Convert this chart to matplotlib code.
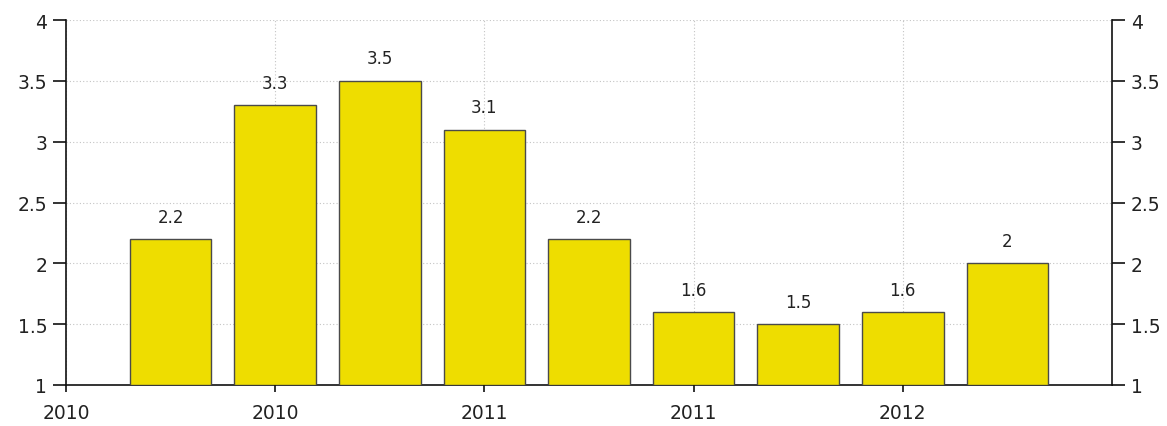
import matplotlib
matplotlib.use("Agg")
import matplotlib.pyplot as plt
from matplotlib.ticker import FuncFormatter

positions = [1, 2, 3, 4, 5, 6, 7, 8, 9]
values = [2.2, 3.3, 3.5, 3.1, 2.2, 1.6, 1.5, 1.6, 2.0]
value_labels = ["2.2", "3.3", "3.5", "3.1", "2.2", "1.6", "1.5", "1.6", "2"]
xtick_pos = [0, 2, 4, 6, 8]
xtick_labels = ["2010", "2010", "2011", "2011", "2012"]
yticks = [1, 1.5, 2, 2.5, 3, 3.5, 4]

plt.rcParams['font.family'] = ['DejaVu Sans']
fig = plt.figure(figsize=(11.67, 4.27), dpi=100)
ax = fig.add_axes([66/1167, 1 - 386/427, (1112 - 66)/1167, (386 - 21)/427])

ax.bar(positions, [v - 1 for v in values], bottom=1, width=0.78,
       color="#EEDD00", edgecolor="#4a4a4a", linewidth=1.0, zorder=3)

for x, v, t in zip(positions, values, value_labels):
    ax.text(x, v + 0.11, t, ha="center", va="bottom", fontsize=12, color="#222222", zorder=4)

ax.set_xlim(0, 10)
ax.set_ylim(1, 4)
ax.set_yticks(yticks)
ax.yaxis.set_major_formatter(FuncFormatter(lambda v, p: f"{v:g}"))
ax.set_xticks(xtick_pos)
ax.set_xticklabels(xtick_labels)

ax.grid(True, axis="both", linestyle=(0, (1, 2)), color="#C4C4C4", linewidth=0.8, zorder=0)

ax.spines["top"].set_visible(False)
for s in ["left", "right", "bottom"]:
    ax.spines[s].set_color("#111111")
    ax.spines[s].set_linewidth(1.2)

ax.tick_params(axis="y", which="both", left=True, right=True, labelleft=True, labelright=True,
               length=9.5, width=1.2, color="#111111", labelsize=13.5, labelcolor="#222222", pad=4)
ax.tick_params(axis="x", length=5, width=1.2, color="#111111", labelsize=13.5, labelcolor="#222222", pad=8)
for lab in ax.get_yticklabels(which="both"):
    pass

fig.savefig("out.png", dpi=100)
